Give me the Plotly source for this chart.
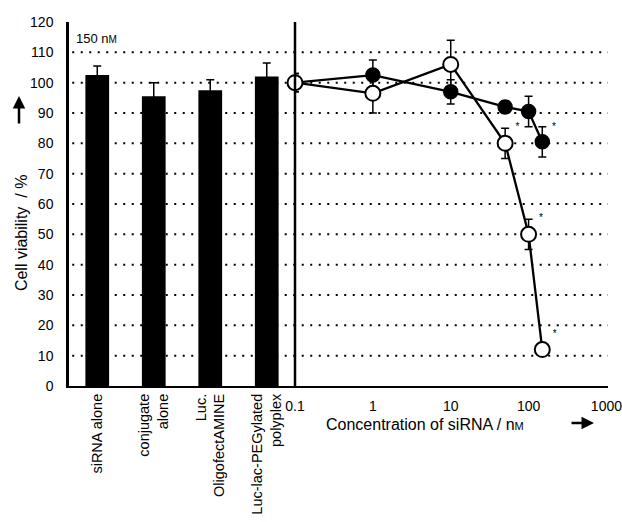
import plotly.graph_objects as go

# ---- data ----
categories = ["siRNA alone", "conjugate<br>alone", "Luc.<br>OligofectAMINE", "Luc-lac-PEGylated<br>polyplex"]
bar_values = [102.5, 95.5, 97.5, 102.0]
bar_errors = [3.0, 4.5, 3.5, 4.5]

conc = [0.1, 1, 10, 50, 100, 150]
filled_values = [100, 102.5, 97, 92, 90.5, 80.5]
filled_errors = [3, 5, 4, 2, 5, 5]
filled_marks = ["", "", "", "", "", "*"]
open_values = [100, 96.5, 106, 80, 50, 12]
open_errors = [3, 6.5, 8, 5, 5, 1.5]
open_marks = ["", "", "", "*", "*", "*"]

x_ticks = [0.1, 1, 10, 100, 1000]
x_ticklabels = ["0.1", "1", "10", "100", "1000"]
y_ticks = list(range(0, 121, 10))
grid_vals = list(range(10, 111, 10))

FONT = "Liberation Sans, Arial, sans-serif"
split = 226 / 539

fig = go.Figure()

fig.add_trace(go.Bar(
    x=categories, y=bar_values, width=0.42,
    marker=dict(color="black", line=dict(width=0)),
    error_y=dict(type="data", array=bar_errors, color="black", thickness=1.5, width=4),
    xaxis="x", yaxis="y", showlegend=False,
))

fig.add_trace(go.Scatter(
    x=conc, y=filled_values, mode="lines+markers+text",
    text=filled_marks, textposition="top right",
    textfont=dict(size=10, color="black", family=FONT),
    line=dict(color="black", width=2.3),
    marker=dict(size=14, color="black", line=dict(color="black", width=1.5)),
    error_y=dict(type="data", array=filled_errors, color="black", thickness=1.5, width=4),
    xaxis="x2", yaxis="y", showlegend=False, cliponaxis=False,
))

fig.add_trace(go.Scatter(
    x=conc, y=open_values, mode="lines+markers+text",
    text=open_marks, textposition="top right",
    textfont=dict(size=10, color="black", family=FONT),
    line=dict(color="black", width=2.3),
    marker=dict(size=15, color="white", line=dict(color="black", width=2)),
    error_y=dict(type="data", array=open_errors, color="black", thickness=1.5, width=4),
    xaxis="x2", yaxis="y", showlegend=False, cliponaxis=False,
))

shapes = []
for g in grid_vals:
    shapes.append(dict(type="line", xref="paper", yref="y", x0=0.006, x1=1, y0=g, y1=g,
                       line=dict(color="black", width=2, dash="2px,6.5px"), layer="below"))
shapes.append(dict(type="line", xref="paper", yref="paper", x0=split, x1=split, y0=0, y1=1,
                   line=dict(color="black", width=2.5)))

annotations = [
    dict(text="150 n<span style='font-size:10px'>M</span>", xref="paper", yref="paper",
         x=0.01, y=0.955, xanchor="left", yanchor="middle", showarrow=False,
         font=dict(size=13, family=FONT, color="black")),
    dict(text="Cell viability  / %", xref="paper", yref="paper", textangle=-90,
         x=-0.087, y=(386 - 233) / 364, xanchor="center", yanchor="middle", showarrow=False,
         font=dict(size=16, family=FONT, color="black")),
    # up arrow beside the y title
    dict(text="", xref="paper", yref="paper", x=(19 - 69) / 539, y=(386 - 96) / 364,
         ax=0, ay=29, showarrow=True, arrowhead=2, arrowsize=1, arrowwidth=2.5, arrowcolor="black"),
    dict(text="Concentration of siRNA / n<span style='font-size:11px'>M</span>", xref="paper", yref="paper",
         x=(425 - 69) / 539, y=-(424 - 386) / 364, xanchor="center", yanchor="middle", showarrow=False,
         font=dict(size=16, family=FONT, color="black")),
    # right arrow beside the x title
    dict(text="", xref="paper", yref="paper", x=(594 - 69) / 539, y=-(423 - 386) / 364,
         ax=-24, ay=0, showarrow=True, arrowhead=2, arrowsize=1, arrowwidth=2.5, arrowcolor="black"),
]

fig.update_layout(
    width=622, height=522,
    margin=dict(l=69, r=14, t=22, b=136, autoexpand=False),
    paper_bgcolor="white", plot_bgcolor="white",
    font=dict(family=FONT, size=14, color="black"),
    bargap=0.58,
    xaxis=dict(domain=[0, split], anchor="y", showline=True, linecolor="black", linewidth=2,
               ticks="", showgrid=False, tickangle=-90, tickfont=dict(size=14.5, family=FONT),
               range=[-0.5, 3.5], automargin=False),
    xaxis2=dict(domain=[split, 1], anchor="y", type="log", range=[-1, 3.02],
                showline=True, linecolor="black", linewidth=2, ticks="", showgrid=False,
                ticklabelstandoff=6, automargin=False, ticklabeloverflow="allow",
                tickvals=x_ticks, ticktext=x_ticklabels, tickfont=dict(size=14, family=FONT)),
    yaxis=dict(range=[0, 120], tickvals=y_ticks, showgrid=False, zeroline=False,
               showline=True, linecolor="black", linewidth=2.5, ticks="", automargin=False,
               ticklabelstandoff=10, tickfont=dict(size=14, family=FONT)),
    shapes=shapes,
    annotations=annotations,
)

fig.write_html("out.html")
